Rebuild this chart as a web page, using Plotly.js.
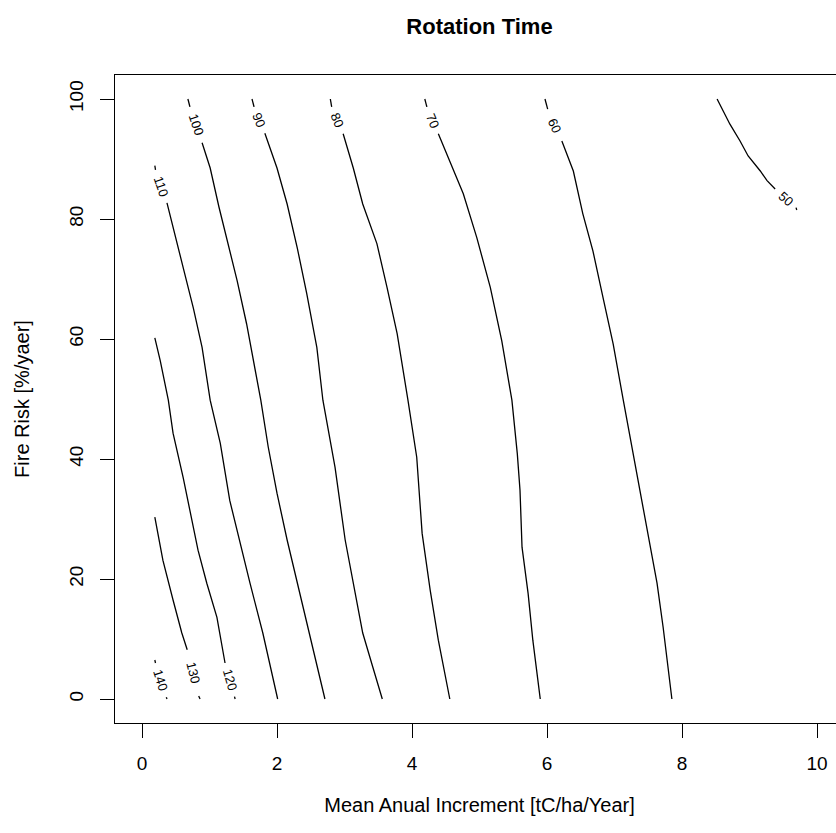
<!DOCTYPE html>
<html>
<head>
<meta charset="utf-8">
<script src="https://cdn.plot.ly/plotly-3.0.1.min.js"></script>
<style>html,body{margin:0;padding:0;overflow:hidden;background:#fff}</style>
</head>
<body>
<div id="chart"></div>
<script>
// Contour levels of rotation time (years)
const levels = [140, 130, 120, 110, 100, 90, 80, 70, 60, 50];

// Contour line paths (x = MAI, y = fire risk); null = gap for label
const c140_x = [0.19, 0.20, null, 0.36, 0.37];
const c140_y = [6.5, 6.0, null, 0.3, 0.0];
const c130_x = [0.19, 0.31, 0.46, 0.59, 0.67, null, 0.84, 0.86];
const c130_y = [30.3, 23.1, 16.5, 11.0, 8.2, null, 0.5, 0.0];
const c120_x = [0.19, 0.27, 0.39, 0.46, 0.61, 0.71, 0.83, 0.96, 1.11, 1.23, null, 1.37, 1.38];
const c120_y = [60.2, 56.4, 49.8, 44.3, 36.9, 31.4, 24.8, 19.3, 13.6, 6.0, null, 0.4, 0.0];
const c110_x = [0.19, 0.20, null, 0.37, 0.46, 0.61, 0.76, 0.89, 1.01, 1.16, 1.30, 1.45, 1.60, 1.79, 2.01];
const c110_y = [88.9, 88.2, null, 82.7, 78.5, 71.9, 65.2, 58.6, 49.8, 42.6, 33.1, 26.0, 19.3, 11.0, 0.0];
const c100_x = [0.68, 0.71, null, 0.89, 1.01, 1.14, 1.27, 1.41, 1.55, 1.66, 1.76, 1.87, 2.00, 2.15, 2.30, 2.49, 2.71];
const c100_y = [100, 98.7, null, 92.7, 88.5, 82.0, 76.0, 69.7, 62.5, 56.0, 49.8, 42.0, 34.3, 26.5, 19.5, 10.5, 0.0];
const c90_x = [1.63, 1.66, null, 1.82, 2.00, 2.15, 2.30, 2.44, 2.59, 2.68, 2.86, 3.01, 3.13, 3.27, 3.42, 3.56];
const c90_y = [100, 98.7, null, 94.3, 88.5, 82.5, 75.2, 67.6, 58.6, 49.8, 38.6, 26.5, 19.3, 11.0, 5.3, 0.0];
const c80_x = [2.79, 2.81, null, 2.98, 3.13, 3.27, 3.48, 3.63, 3.78, 3.94, 4.07, 4.15, 4.27, 4.39, 4.56];
const c80_y = [100, 98.7, null, 94.2, 88.5, 82.5, 75.9, 68.6, 60.9, 49.8, 40.3, 27.6, 18.1, 9.8, 0.0];
const c70_x = [4.19, 4.22, null, 4.39, 4.56, 4.76, 4.96, 5.16, 5.33, 5.48, 5.56, 5.60, 5.63, 5.72, 5.79, 5.90];
const c70_y = [100, 98.7, null, 94.2, 89.7, 84.2, 76.9, 68.6, 59.7, 49.8, 40.9, 34.8, 25.3, 17.6, 9.8, 0.0];
const c60_x = [5.97, 6.01, null, 6.22, 6.39, 6.53, 6.68, 6.83, 6.98, 7.13, 7.27, 7.38, 7.50, 7.63, 7.72, 7.79, 7.85];
const c60_y = [100, 98.3, null, 93.0, 88.0, 80.9, 74.7, 66.9, 59.2, 49.8, 41.4, 34.8, 27.6, 19.3, 12.0, 5.3, 0.0];
const c50_x = [8.52, 8.71, 8.86, 8.98, 9.16, 9.26, 9.38, null, 9.69, 9.70];
const c50_y = [100, 95.8, 93.0, 90.5, 88.0, 86.4, 85.0, null, 81.9, 81.5];

const xTicks = [0, 2, 4, 6, 8, 10];
const yTicks = [0, 20, 40, 60, 80, 100];

const paths = {
  140: [c140_x, c140_y], 130: [c130_x, c130_y], 120: [c120_x, c120_y], 110: [c110_x, c110_y],
  100: [c100_x, c100_y], 90: [c90_x, c90_y], 80: [c80_x, c80_y], 70: [c70_x, c70_y],
  60: [c60_x, c60_y], 50: [c50_x, c50_y]
};

const FONT = 'Liberation Sans, Arial, Helvetica, sans-serif';
const W = 850, H = 833;
const M = {l: 115, r: 6, t: 75, b: 110};
const xRange = [-0.4, 10.4], yRange = [-4, 104];
const pxX = (W - M.l - M.r) / (xRange[1] - xRange[0]);
const pxY = (H - M.t - M.b) / (yRange[1] - yRange[0]);

const traces = [];
const annotations = [];
levels.forEach(lv => {
  const [xs, ys] = paths[lv];
  traces.push({
    type: 'scatter', mode: 'lines', x: xs, y: ys, connectgaps: false,
    line: {color: '#000', width: 1.3}, hoverinfo: 'skip', showlegend: false, name: String(lv)
  });
  const g = xs.indexOf(null);
  const x1 = xs[g - 1], y1 = ys[g - 1], x2 = xs[g + 1], y2 = ys[g + 1];
  const ang = Math.atan2((y1 - y2) * pxY, (x2 - x1) * pxX) * 180 / Math.PI;
  annotations.push({
    x: (x1 + x2) / 2, y: (y1 + y2) / 2, xref: 'x', yref: 'y', text: String(lv),
    showarrow: false, textangle: ang, font: {family: FONT, size: 13, color: '#000'}
  });
});

const layout = {
  width: W, height: H, margin: M,
  paper_bgcolor: '#fff', plot_bgcolor: '#fff',
  font: {family: FONT, color: '#000'},
  title: {text: '<b>Rotation Time</b>', font: {family: FONT, size: 22, color: '#000'},
          x: 0.5, xref: 'paper', xanchor: 'center', y: 1 - 26 / H, yref: 'container', yanchor: 'middle'},
  xaxis: {
    range: xRange, tickvals: xTicks, ticktext: xTicks.map(String),
    ticks: 'outside', ticklen: 14, tickwidth: 1, tickcolor: '#000', ticklabelstandoff: 9,
    showline: true, mirror: true, linecolor: '#000', linewidth: 1,
    showgrid: false, zeroline: false, tickfont: {family: FONT, size: 19, color: '#000'},
    title: {text: 'Mean Anual Increment [tC/ha/Year]', font: {family: FONT, size: 20, color: '#000'}, standoff: 25}
  },
  yaxis: {
    range: yRange, tickvals: yTicks, ticktext: yTicks.map(String), tickangle: -90,
    ticks: 'outside', ticklen: 14, tickwidth: 1, tickcolor: '#000', ticklabelstandoff: 9,
    showline: true, mirror: true, linecolor: '#000', linewidth: 1,
    showgrid: false, zeroline: false, tickfont: {family: FONT, size: 19, color: '#000'},
    title: {text: 'Fire Risk [%/yaer]', font: {family: FONT, size: 20, color: '#000'}, standoff: 31}
  },
  annotations: annotations
};

Plotly.newPlot('chart', traces, layout, {staticPlot: true, displayModeBar: false});
</script>
</body>
</html>
